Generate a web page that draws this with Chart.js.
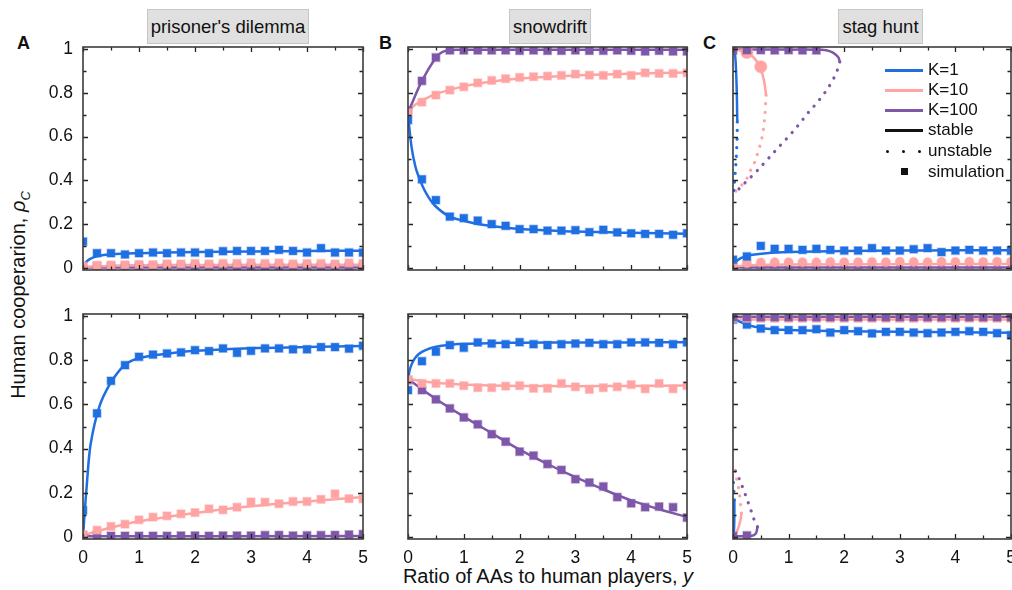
<!DOCTYPE html>
<html lang="en">
<head>
<meta charset="UTF-8">
<title>Human cooperation vs ratio of AAs</title>
<script src="https://cdn.jsdelivr.net/npm/chart.js"></script>
<style>
  html, body { margin: 0; padding: 0; width: 1012px; height: 590px; overflow: hidden; background: #fff; }
  body { position: relative; font-family: "Liberation Sans", Arial, sans-serif; color: #111; }
  canvas { position: absolute; }
  .title { position: absolute; top: 9px; height: 33px; line-height: 33px; background: #e0e0e0;
           border: 1px solid #c6c6c6; text-align: center; font-size: 18.5px; }
  .letter { position: absolute; top: 33px; font-weight: bold; font-size: 18px; }
  .ytitle { position: absolute; left: 20px; top: 295px; font-size: 20px; white-space: nowrap;
            transform: translate(-50%, -50%) rotate(-90deg); }
  .xtitle { position: absolute; left: 548px; top: 565px; font-size: 20px; white-space: nowrap;
            transform: translateX(-50%); }
  .leg { position: absolute; left: 928px; font-size: 17px; line-height: 20px; transform: translateY(-50%); }
  .legline { position: absolute; left: 885px; width: 38px; height: 3px; margin-top: -1px; }
  .dot { position: absolute; width: 3px; height: 3px; border-radius: 50%; background: #111; margin: -1px 0 0 -1px; }
</style>
</head>
<body>

<div class="title" style="left:147px; width:160px;">prisoner's dilemma</div>
<div class="title" style="left:509px; width:80px;">snowdrift</div>
<div class="title" style="left:838px; width:83px;">stag hunt</div>

<div class="letter" style="left:17px;">A</div>
<div class="letter" style="left:379px;">B</div>
<div class="letter" style="left:703px;">C</div>

<div class="ytitle">Human cooperarion, <i>ρ</i><sub style="font-size:13px;"><i>C</i></sub></div>
<div class="xtitle">Ratio of AAs to human players, <i>y</i></div>

<canvas id="pdTop"></canvas>
<canvas id="sdTop"></canvas>
<canvas id="shTop"></canvas>
<canvas id="pdBot"></canvas>
<canvas id="sdBot"></canvas>
<canvas id="shBot"></canvas>

<!-- legend (panel C, top) -->
<div class="legline" style="top:70px; background:#1f6fe3;"></div>
<div class="leg" style="top:70px;">K=1</div>
<div class="legline" style="top:90px; background:#ffa3a3;"></div>
<div class="leg" style="top:90px;">K=10</div>
<div class="legline" style="top:110px; background:#7e57a9;"></div>
<div class="leg" style="top:110px;">K=100</div>
<div class="legline" style="top:130px; background:#111;"></div>
<div class="leg" style="top:130px;">stable</div>
<div class="dot" style="left:887px; top:151px;"></div>
<div class="dot" style="left:903px; top:151px;"></div>
<div class="dot" style="left:919px; top:151px;"></div>
<div class="leg" style="top:151px;">unstable</div>
<div style="position:absolute; left:901px; top:168px; width:7px; height:7px; background:#111;"></div>
<div class="leg" style="top:172px;">simulation</div>

<script>
// ---- data ----
const simX = [0, 0.25, 0.5, 0.75, 1, 1.25, 1.5, 1.75, 2, 2.25, 2.5, 2.75, 3, 3.25, 3.5, 3.75, 4, 4.25, 4.5, 4.75, 5];
const xMajor = [0, 1, 2, 3, 4, 5];
const xMinor = [0.5, 1.5, 2.5, 3.5, 4.5];
const yMajor = [0, 0.2, 0.4, 0.6, 0.8, 1];
const yMinor = [0.1, 0.3, 0.5, 0.7, 0.9];
const xTickLabels = ['0', '1', '2', '3', '4', '5'];
const yTickLabels = ['0', '0.2', '0.4', '0.6', '0.8', '1'];

// prisoner's dilemma, top row
const pdTopSimK1 = [0.12, 0.067, 0.067, 0.061, 0.067, 0.07, 0.067, 0.07, 0.07, 0.067, 0.076, 0.077, 0.077, 0.077, 0.082, 0.077, 0.07, 0.09, 0.07, 0.07, 0.07];
const pdTopSimK10 = [0.008, 0.012, 0.013, 0.014, 0.016, 0.015, 0.018, 0.018, 0.02, 0.018, 0.02, 0.02, 0.022, 0.02, 0.022, 0.018, 0.02, 0.02, 0.018, 0.022, 0.02];
const pdTopSimK100 = [0.004, 0.006, 0.005, 0.006, 0.006, 0.005, 0.006, 0.006, 0.007, 0.006, 0.006, 0.007, 0.006, 0.007, 0.006, 0.006, 0.007, 0.006, 0.007, 0.006, 0.007];
const pdTopK1X = [0, 0.05, 0.12, 0.25, 0.5, 1, 2, 3, 4, 5];
const pdTopK1Y = [0.005, 0.025, 0.04, 0.053, 0.062, 0.067, 0.072, 0.075, 0.077, 0.078];
const pdTopK10X = [0, 0.5, 1, 2, 5];
const pdTopK10Y = [0.003, 0.01, 0.012, 0.013, 0.014];
const pdTopK100X = [0, 5];
const pdTopK100Y = [0.001, 0.001];

// prisoner's dilemma, bottom row
const pdBotSimK1 = [0.12, 0.56, 0.707, 0.778, 0.816, 0.826, 0.831, 0.836, 0.846, 0.842, 0.854, 0.834, 0.843, 0.854, 0.854, 0.85, 0.85, 0.86, 0.86, 0.853, 0.866];
const pdBotSimK10 = [0.01, 0.03, 0.047, 0.057, 0.077, 0.089, 0.095, 0.104, 0.11, 0.127, 0.122, 0.134, 0.158, 0.157, 0.15, 0.16, 0.16, 0.17, 0.195, 0.173, 0.172];
const pdBotSimK100 = [0.005, 0.004, 0.004, 0.004, 0.004, 0.004, 0.004, 0.005, 0.005, 0.004, 0.005, 0.005, 0.005, 0.007, 0.008, 0.005, 0.006, 0.007, 0.008, 0.01, 0.012];
const pdBotK1X = [0, 0.03, 0.06, 0.12, 0.18, 0.24, 0.32, 0.42, 0.55, 0.75, 1, 1.5, 2, 3, 4, 5];
const pdBotK1Y = [0, 0.11, 0.21, 0.39, 0.48, 0.545, 0.61, 0.665, 0.72, 0.78, 0.81, 0.83, 0.843, 0.855, 0.86, 0.865];
const pdBotK10X = [0, 0.25, 0.5, 1, 1.5, 2, 3, 4, 5];
const pdBotK10Y = [0.005, 0.025, 0.042, 0.07, 0.09, 0.108, 0.138, 0.16, 0.18];
const pdBotK100X = [0, 5];
const pdBotK100Y = [0.002, 0.004];

// snowdrift, top row
const sdTopSimK1 = [0.676, 0.405, 0.31, 0.234, 0.227, 0.216, 0.2, 0.192, 0.177, 0.177, 0.17, 0.17, 0.172, 0.163, 0.174, 0.162, 0.158, 0.155, 0.155, 0.151, 0.158];
const sdTopSimK10 = [0.71, 0.758, 0.79, 0.813, 0.828, 0.846, 0.857, 0.865, 0.871, 0.874, 0.877, 0.88, 0.886, 0.881, 0.88, 0.886, 0.88, 0.892, 0.889, 0.889, 0.892];
const sdTopSimK100 = [0.72, 0.855, 0.962, 0.995, 0.995, 0.995, 0.995, 0.995, 0.993, 0.995, 0.993, 0.993, 0.995, 0.993, 0.993, 0.995, 0.993, 0.99, 0.993, 0.99, 0.99];
const sdTopK1X = [0, 0.02, 0.06, 0.1, 0.15, 0.25, 0.35, 0.48, 0.72, 1, 1.3, 2, 3, 4, 5];
const sdTopK1Y = [0.71, 0.65, 0.56, 0.5, 0.447, 0.38, 0.33, 0.285, 0.238, 0.215, 0.198, 0.177, 0.166, 0.16, 0.156];
const sdTopK10X = [0, 0.1, 0.25, 0.5, 1, 1.5, 2, 3, 4, 5];
const sdTopK10Y = [0.71, 0.74, 0.765, 0.795, 0.83, 0.852, 0.866, 0.88, 0.888, 0.893];
const sdTopK100X = [0, 0.25, 0.5, 0.6, 0.7, 0.85, 1, 5];
const sdTopK100Y = [0.71, 0.855, 0.962, 0.985, 0.994, 0.997, 0.997, 0.997];

// snowdrift, bottom row
const sdBotSimK1 = [0.665, 0.796, 0.839, 0.869, 0.857, 0.881, 0.876, 0.873, 0.882, 0.873, 0.869, 0.873, 0.876, 0.879, 0.873, 0.873, 0.881, 0.881, 0.879, 0.873, 0.881];
const sdBotSimK10 = [0.713, 0.695, 0.695, 0.695, 0.685, 0.676, 0.676, 0.683, 0.685, 0.673, 0.673, 0.695, 0.68, 0.668, 0.676, 0.68, 0.69, 0.671, 0.695, 0.671, 0.685];
const sdBotSimK100 = [0.71, 0.665, 0.623, 0.582, 0.541, 0.51, 0.465, 0.431, 0.386, 0.368, 0.33, 0.303, 0.261, 0.246, 0.228, 0.18, 0.152, 0.134, 0.137, 0.134, 0.087];
const sdBotK1X = [0, 0.03, 0.08, 0.15, 0.25, 0.4, 0.6, 0.8, 1, 1.5, 2, 3, 4, 5];
const sdBotK1Y = [0.71, 0.755, 0.79, 0.818, 0.838, 0.855, 0.866, 0.872, 0.875, 0.878, 0.88, 0.881, 0.881, 0.882];
const sdBotK10X = [0, 0.5, 1, 1.5, 2, 3, 4, 5];
const sdBotK10Y = [0.715, 0.698, 0.69, 0.686, 0.684, 0.683, 0.684, 0.686];
const sdBotK100X = [0, 0.5, 1, 1.5, 2, 2.5, 3, 3.5, 4, 4.5, 5];
const sdBotK100Y = [0.715, 0.625, 0.545, 0.47, 0.395, 0.33, 0.27, 0.215, 0.165, 0.125, 0.09];

// stag hunt, top row
const shTopSimK1 = [0.037, 0.052, 0.1, 0.087, 0.087, 0.082, 0.087, 0.082, 0.079, 0.079, 0.09, 0.079, 0.079, 0.085, 0.09, 0.072, 0.079, 0.082, 0.079, 0.079, 0.078];
const shTopSimK10 = [0.015, 0.022, 0.024, 0.025, 0.026, 0.026, 0.025, 0.027, 0.026, 0.026, 0.027, 0.026, 0.028, 0.027, 0.026, 0.028, 0.027, 0.028, 0.027, 0.028, 0.028];
const shTopSimK100 = [0.004, 0.007, 0.007, 0.008, 0.007, 0.008, 0.007, 0.008, 0.008, 0.007, 0.008, 0.008, 0.007, 0.008, 0.008, 0.007, 0.008, 0.008, 0.008, 0.007, 0.008];
const shTopHighSimX = [0, 0.25, 0.5, 0.75, 1, 1.25, 1.5];
const shTopHighSimK100 = [0.995, 0.996, 0.996, 0.995, 0.996, 0.995, 0.995];
const shTopHighSimK10X = [0.25, 0.5];
const shTopHighSimK10 = [0.985, 0.92];
const shTopK1LowX = [0, 0.06, 0.15, 0.3, 0.6, 1, 2, 3, 4, 5];
const shTopK1LowY = [0.015, 0.03, 0.045, 0.058, 0.067, 0.072, 0.077, 0.079, 0.08, 0.08];
const shTopK10LowX = [0, 0.3, 1, 5];
const shTopK10LowY = [0.005, 0.012, 0.015, 0.017];
const shTopK100LowX = [0, 5];
const shTopK100LowY = [0.002, 0.002];
const shTopK1HighX = [0.005, 0.03, 0.05, 0.065, 0.072, 0.077];
const shTopK1HighY = [1.0, 0.99, 0.93, 0.83, 0.75, 0.668];
const shTopK1UnstX = [0.077, 0.075, 0.065, 0.048, 0.03, 0.012, 0];
const shTopK1UnstY = [0.668, 0.6, 0.54, 0.463, 0.4, 0.348, 0.33];
const shTopK10HighX = [0, 0.15, 0.27, 0.38, 0.47, 0.53, 0.57, 0.595];
const shTopK10HighY = [0.998, 0.993, 0.982, 0.96, 0.925, 0.885, 0.84, 0.79];
const shTopK10UnstX = [0.595, 0.583, 0.56, 0.512, 0.452, 0.393, 0.304, 0.232, 0.125, 0.024, 0];
const shTopK10UnstY = [0.79, 0.737, 0.66, 0.584, 0.53, 0.485, 0.44, 0.4, 0.37, 0.344, 0.34];
const shTopK100HighX = [0, 1, 1.6, 1.75, 1.85, 1.9, 1.92];
const shTopK100HighY = [0.998, 0.998, 0.997, 0.99, 0.975, 0.96, 0.942];
const shTopK100UnstX = [1.92, 1.86, 1.76, 1.64, 1.5, 1.34, 1.2, 1.04, 0.85, 0.6, 0.4, 0.24, 0.06, 0];
const shTopK100UnstY = [0.942, 0.893, 0.843, 0.797, 0.752, 0.706, 0.66, 0.612, 0.56, 0.49, 0.435, 0.395, 0.35, 0.34];

// stag hunt, bottom row
const shBotSimK1 = [0.985, 0.962, 0.944, 0.937, 0.937, 0.937, 0.941, 0.926, 0.937, 0.932, 0.922, 0.929, 0.929, 0.926, 0.923, 0.926, 0.929, 0.932, 0.929, 0.923, 0.914];
const shBotSimK10 = [0.99, 0.99, 0.99, 0.99, 0.99, 0.99, 0.99, 0.99, 0.99, 0.99, 0.99, 0.99, 0.99, 0.99, 0.99, 0.99, 0.99, 0.99, 0.99, 0.99, 0.99];
const shBotSimK100 = [0.996, 0.996, 0.996, 0.996, 0.996, 0.996, 0.996, 0.996, 0.996, 0.996, 0.996, 0.996, 0.996, 0.996, 0.996, 0.996, 0.996, 0.996, 0.996, 0.996, 0.996];
const shBotLowSimX = [0, 0.25];
const shBotLowSimK100 = [0.003, 0.006];
const shBotK1HighX = [0, 0.1, 0.25, 0.5, 1, 2, 3, 4, 5];
const shBotK1HighY = [0.99, 0.978, 0.962, 0.947, 0.937, 0.932, 0.929, 0.927, 0.925];
const shBotK10HighX = [0, 5];
const shBotK10HighY = [0.985, 0.985];
const shBotK100HighX = [0, 5];
const shBotK100HighY = [0.998, 0.998];
const shBotK1LowX = [0.005, 0.015, 0.022, 0.025, 0.025];
const shBotK1LowY = [0, 0.02, 0.06, 0.12, 0.167];
const shBotK1UnstX = [0.025, 0.018, 0.01, 0];
const shBotK1UnstY = [0.167, 0.2, 0.235, 0.27];
const shBotK10LowX = [0.04, 0.06, 0.1, 0.137, 0.15];
const shBotK10LowY = [0, 0.017, 0.044, 0.077, 0.107];
const shBotK10UnstX = [0.15, 0.125, 0.09, 0.04, 0];
const shBotK10UnstY = [0.107, 0.175, 0.235, 0.285, 0.31];
const shBotK100LowX = [0, 0.2, 0.36, 0.41, 0.43, 0.44];
const shBotK100LowY = [0.003, 0.003, 0.006, 0.015, 0.03, 0.045];
const shBotK100UnstX = [0.44, 0.38, 0.32, 0.256, 0.185, 0.107, 0.02, 0];
const shBotK100UnstY = [0.045, 0.077, 0.122, 0.167, 0.216, 0.265, 0.31, 0.32];

// ---- styling ----
const col = { k1: '#1f6fe3', k10: '#ffa3a3', k100: '#7e57a9' };
const halo = { k1: 'rgba(31,111,227,0.35)', k10: 'rgba(255,163,163,0.45)', k100: 'rgba(126,87,169,0.4)' };

function zip(xs, ys) { return xs.map((x, i) => ({ x: x, y: ys[i] })); }

function sim(xs, ys, k, style, r) {
  return {
    data: zip(xs, ys), showLine: false, order: 0, clip: 0,
    pointStyle: style || 'rect', pointRadius: r || 5.5, pointHoverRadius: r || 5.5,
    backgroundColor: col[k], borderColor: halo[k], borderWidth: 1.5
  };
}

function curve(xs, ys, k, dotted) {
  return {
    data: zip(xs, ys), showLine: true, order: 1, clip: 0, fill: false,
    pointRadius: 0, pointHoverRadius: 0, tension: 0.35,
    borderColor: col[k], borderWidth: dotted ? 3.2 : 2.5,
    borderDash: dotted ? [0.1, 8.5] : [], borderCapStyle: dotted ? 'round' : 'butt'
  };
}

// draws the box, inward ticks and tick labels from the chart's own scales
const framePlugin = {
  id: 'frame',
  afterDatasetsDraw(chart, args, opts) {
    const ctx = chart.ctx, a = chart.chartArea;
    const sx = chart.scales.x, sy = chart.scales.y;
    ctx.save();
    ctx.strokeStyle = '#222';
    ctx.lineWidth = 1.3;
    ctx.beginPath();
    xMajor.concat(xMinor).forEach(v => {
      const len = xMajor.includes(v) ? 5 : 3.5;
      const px = Math.round(sx.getPixelForValue(v)) + 0.5;
      ctx.moveTo(px, a.bottom); ctx.lineTo(px, a.bottom - len);
      ctx.moveTo(px, a.top); ctx.lineTo(px, a.top + len);
    });
    yMajor.concat(yMinor).forEach(v => {
      const len = yMajor.includes(v) ? 5 : 3.5;
      const py = Math.round(sy.getPixelForValue(v)) + 0.5;
      ctx.moveTo(a.left, py); ctx.lineTo(a.left + len, py);
      ctx.moveTo(a.right, py); ctx.lineTo(a.right - len, py);
    });
    ctx.stroke();
    ctx.strokeStyle = '#3c3c3c';
    ctx.lineWidth = 1.6;
    ctx.strokeRect(a.left, a.top, a.right - a.left, a.bottom - a.top);

    ctx.fillStyle = '#111';
    ctx.font = '17.5px "Liberation Sans", Arial, sans-serif';
    if (opts.yLabels) {
      ctx.textAlign = 'right'; ctx.textBaseline = 'middle';
      yMajor.forEach((v, i) => ctx.fillText(yTickLabels[i], a.left - 10, sy.getPixelForValue(v)));
    }
    if (opts.xLabels) {
      ctx.textAlign = 'center'; ctx.textBaseline = 'middle';
      xMajor.forEach((v, i) => ctx.fillText(xTickLabels[i], sx.getPixelForValue(v), a.bottom + 19));
    }
    ctx.restore();
  }
};

const panels = [
  { id: 'pdTop', left: 83, top: 47, w: 280, h: 223, yLabels: true, xLabels: false, sets: [
    sim(simX, pdTopSimK1, 'k1'), sim(simX, pdTopSimK10, 'k10'), sim(simX, pdTopSimK100, 'k100'),
    curve(pdTopK1X, pdTopK1Y, 'k1'), curve(pdTopK10X, pdTopK10Y, 'k10'), curve(pdTopK100X, pdTopK100Y, 'k100')
  ]},
  { id: 'sdTop', left: 408, top: 47, w: 279, h: 223, yLabels: false, xLabels: false, sets: [
    sim(simX, sdTopSimK1, 'k1'), sim(simX, sdTopSimK10, 'k10'), sim(simX, sdTopSimK100, 'k100'),
    curve(sdTopK1X, sdTopK1Y, 'k1'), curve(sdTopK10X, sdTopK10Y, 'k10'), curve(sdTopK100X, sdTopK100Y, 'k100')
  ]},
  { id: 'shTop', left: 733, top: 47, w: 278, h: 223, yLabels: false, xLabels: false, sets: [
    sim(simX, shTopSimK1, 'k1'), sim(simX, shTopSimK10, 'k10', 'circle', 4.5), sim(simX, shTopSimK100, 'k100', 'triangle', 5),
    sim(shTopHighSimX, shTopHighSimK100, 'k100'), sim(shTopHighSimK10X, shTopHighSimK10, 'k10', 'circle', 6),
    curve(shTopK1LowX, shTopK1LowY, 'k1'), curve(shTopK10LowX, shTopK10LowY, 'k10'), curve(shTopK100LowX, shTopK100LowY, 'k100'),
    curve(shTopK1HighX, shTopK1HighY, 'k1'), curve(shTopK1UnstX, shTopK1UnstY, 'k1', true),
    curve(shTopK10HighX, shTopK10HighY, 'k10'), curve(shTopK10UnstX, shTopK10UnstY, 'k10', true),
    curve(shTopK100HighX, shTopK100HighY, 'k100'), curve(shTopK100UnstX, shTopK100UnstY, 'k100', true)
  ]},
  { id: 'pdBot', left: 83, top: 314, w: 280, h: 225, yLabels: true, xLabels: true, sets: [
    sim(simX, pdBotSimK1, 'k1'), sim(simX, pdBotSimK10, 'k10'), sim(simX, pdBotSimK100, 'k100'),
    curve(pdBotK1X, pdBotK1Y, 'k1'), curve(pdBotK10X, pdBotK10Y, 'k10'), curve(pdBotK100X, pdBotK100Y, 'k100')
  ]},
  { id: 'sdBot', left: 408, top: 314, w: 279, h: 225, yLabels: false, xLabels: true, sets: [
    sim(simX, sdBotSimK1, 'k1'), sim(simX, sdBotSimK10, 'k10'), sim(simX, sdBotSimK100, 'k100'),
    curve(sdBotK1X, sdBotK1Y, 'k1'), curve(sdBotK10X, sdBotK10Y, 'k10'), curve(sdBotK100X, sdBotK100Y, 'k100')
  ]},
  { id: 'shBot', left: 733, top: 314, w: 278, h: 225, yLabels: false, xLabels: true, sets: [
    sim(simX, shBotSimK100, 'k100'), sim(simX, shBotSimK10, 'k10'), sim(simX, shBotSimK1, 'k1'),
    sim(shBotLowSimX, shBotLowSimK100, 'k100'),
    curve(shBotK1HighX, shBotK1HighY, 'k1'), curve(shBotK10HighX, shBotK10HighY, 'k10'), curve(shBotK100HighX, shBotK100HighY, 'k100'),
    curve(shBotK1LowX, shBotK1LowY, 'k1'), curve(shBotK1UnstX, shBotK1UnstY, 'k1', true),
    curve(shBotK10LowX, shBotK10LowY, 'k10'), curve(shBotK10UnstX, shBotK10UnstY, 'k10', true),
    curve(shBotK100LowX, shBotK100LowY, 'k100'), curve(shBotK100UnstX, shBotK100UnstY, 'k100', true)
  ]}
];

const PAD = { left: 60, right: 20, top: 12, bottom: 33 };

panels.forEach(p => {
  const cv = document.getElementById(p.id);
  cv.width = p.w + PAD.left + PAD.right;
  cv.height = p.h + PAD.top + PAD.bottom;
  cv.style.left = (p.left - PAD.left) + 'px';
  cv.style.top = (p.top - PAD.top) + 'px';
  cv.style.width = cv.width + 'px';
  cv.style.height = cv.height + 'px';

  new Chart(cv, {
    type: 'scatter',
    data: { datasets: p.sets },
    options: {
      responsive: false,
      animation: false,
      devicePixelRatio: 1,
      layout: { padding: PAD },
      scales: {
        x: { type: 'linear', min: 0, max: 5, display: false },
        y: { type: 'linear', min: -0.01, max: 1.01, display: false }
      },
      plugins: {
        legend: { display: false },
        tooltip: { enabled: false },
        frame: { yLabels: p.yLabels, xLabels: p.xLabels }
      }
    },
    plugins: [framePlugin]
  });
});
</script>
</body>
</html>
